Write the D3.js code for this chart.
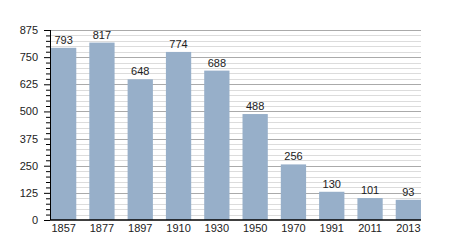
<!DOCTYPE html>
<html>
<head>
<meta charset="utf-8">
<script src="https://cdn.jsdelivr.net/npm/d3@7"></script>
<style>
  body { margin: 0; background: white; }
  text { font-family: "Liberation Sans", Arial, sans-serif; font-size: 11px; fill: #222; }
</style>
</head>
<body>
<div id="container"></div>
<script>
var years = ['1857', '1877', '1897', '1910', '1930', '1950', '1970', '1991', '2011', '2013'];
var population = [793, 817, 648, 774, 688, 488, 256, 130, 101, 93];
var yTicks = [0, 125, 250, 375, 500, 625, 750, 875];

var svgWidth = 450,
    svgHeight = 250,
    svg = d3.select('#container').append('svg').attr('width', svgWidth).attr('height', svgHeight),
    margin = { top: 30, right: 29, bottom: 30, left: 50 },
    width = svgWidth - margin.left - margin.right,
    height = svgHeight - margin.top - margin.bottom;

var g = svg.append('g').attr('transform', 'translate(' + margin.left + ',' + margin.top + ')');

var x = d3.scaleBand().domain(years).range([1, width]).paddingInner(0.34).paddingOuter(0);
var y = d3.scaleLinear().domain([0, 875]).range([height, 0]);

// minor grid every 25
var minor = d3.range(25, 875, 25).filter(function(d) { return d % 125 !== 0; });
g.selectAll('.minor').data(minor).enter().append('line')
  .attr('x1', 0).attr('x2', width)
  .attr('y1', function(d) { return Math.round(y(d)) + 0.5; })
  .attr('y2', function(d) { return Math.round(y(d)) + 0.5; })
  .attr('stroke', '#dcdcdc');

g.selectAll('.major').data(yTicks.slice(1)).enter().append('line')
  .attr('x1', 0).attr('x2', width)
  .attr('y1', function(d) { return Math.round(y(d)) + 0.5; })
  .attr('y2', function(d) { return Math.round(y(d)) + 0.5; })
  .attr('stroke', '#aaaaaa');

g.selectAll('.bar').data(population).enter().append('rect')
  .attr('x', function(d, i) { return x(years[i]); })
  .attr('y', function(d) { return y(d); })
  .attr('width', x.bandwidth())
  .attr('height', function(d) { return height - y(d); })
  .attr('fill', '#97afc9');

g.selectAll('.label').data(population).enter().append('text')
  .attr('x', function(d, i) { return x(years[i]) + x.bandwidth() / 2; })
  .attr('y', function(d) { return y(d) - 4; })
  .attr('text-anchor', 'middle')
  .text(function(d) { return d; });

// y axis: minor ticks then major
g.append('g')
  .call(d3.axisLeft(y).tickValues(minor).tickSize(4).tickFormat(''))
  .call(function(a) { a.select('.domain').remove(); a.selectAll('line').attr('stroke', '#000'); });

g.append('g').attr('class', 'axis axis-y')
  .call(d3.axisLeft(y).tickValues(yTicks).tickSize(6).tickPadding(6))
  .call(function(a) {
    a.select('.domain').attr('d', 'M0.5,0V' + height);
    a.selectAll('text').style('font-size', '11px').attr('font-family', null);
  });

g.append('g').attr('class', 'axis axis-x')
  .attr('transform', 'translate(0,' + height + ')')
  .call(d3.axisBottom(x).tickSize(0).tickPadding(4))
  .call(function(a) {
    a.select('.domain').attr('stroke-width', 1.5).attr('d', 'M0,0H' + width);
    a.selectAll('text').style('font-size', '11px').attr('font-family', null);
  });
</script>
</body>
</html>
